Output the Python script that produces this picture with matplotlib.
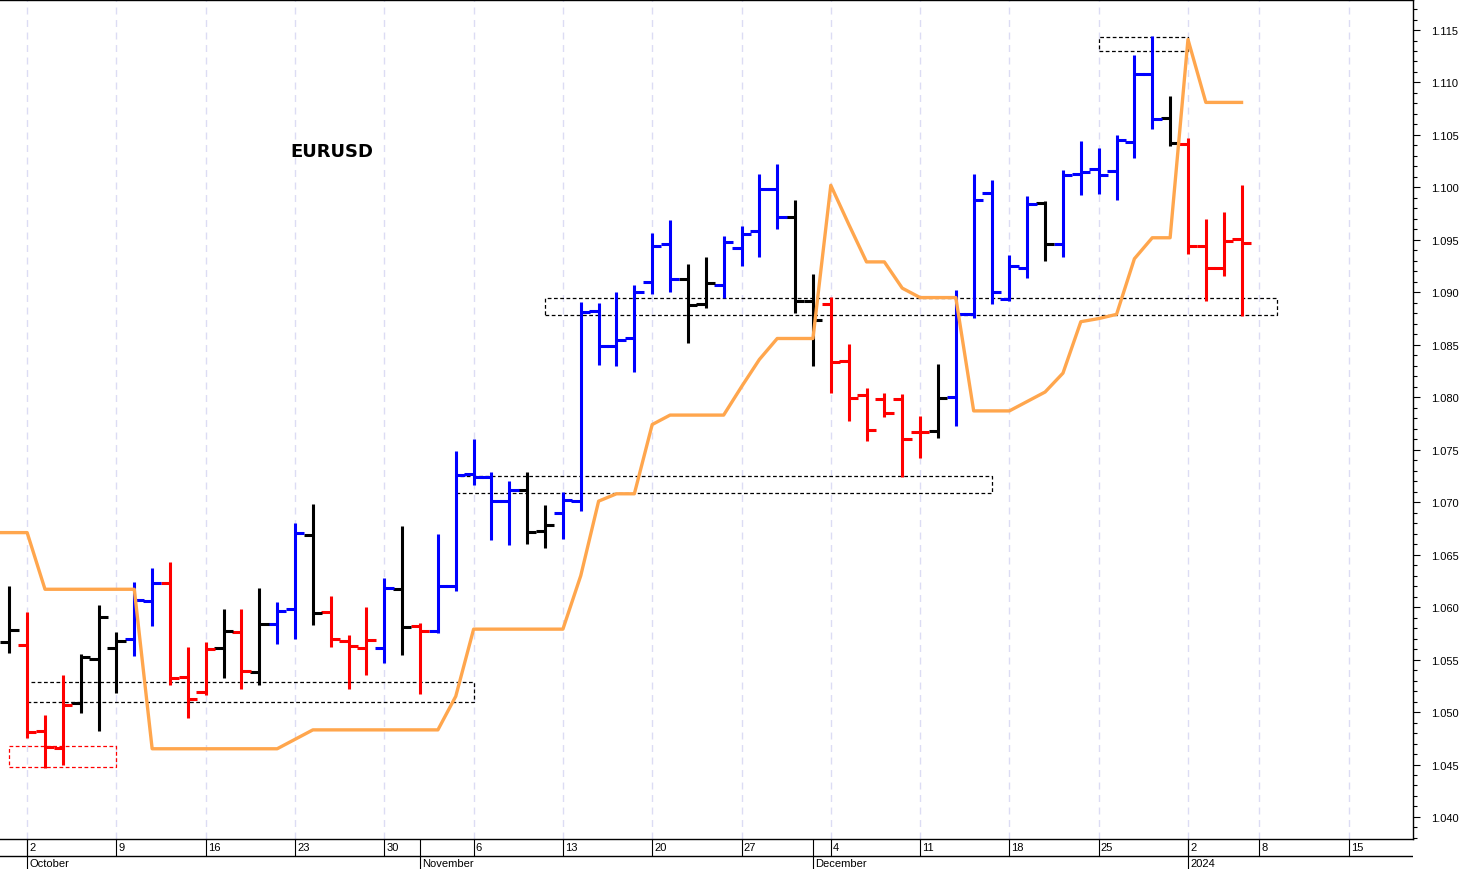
import numpy as np
import pandas as pd
import matplotlib.pyplot as plt
from matplotlib.patches import Rectangle
from matplotlib.ticker import MultipleLocator, FormatStrFormatter

# trading days on the axis (weekdays, no Jan 1), bars run Sep 29 -> Jan 5
days = pd.bdate_range('2023-09-29', '2024-01-19')
days = days[days != pd.Timestamp('2024-01-01')]

opens = [1.0567, 1.0564, 1.0482, 1.0466, 1.0509, 1.0551, 1.0561, 1.0570, 1.0606, 1.0623,
         1.0533, 1.0519, 1.0561, 1.0576, 1.0538, 1.0584, 1.0598, 1.0669, 1.0595, 1.0568,
         1.0561, 1.0561, 1.0617, 1.0582, 1.0577, 1.0620, 1.0727, 1.0724, 1.0701, 1.0712,
         1.0673, 1.0690, 1.0701, 1.0882, 1.0849, 1.0856, 1.0910, 1.0946, 1.0913, 1.0889,
         1.0907, 1.0942, 1.0958, 1.0998, 1.0972, 1.0892, 1.0889, 1.0835, 1.0802, 1.0798,
         1.0798, 1.0767, 1.0768, 1.0800, 1.0879, 1.0995, 1.0894, 1.0923, 1.0985, 1.0946,
         1.1013, 1.1018, 1.1016, 1.1043, 1.1108, 1.1066, 1.1041, 1.0944, 1.0923, 1.0951]
highs = [1.0620, 1.0595, 1.0497, 1.0535, 1.0555, 1.0602, 1.0576, 1.0624, 1.0637, 1.0643,
         1.0562, 1.0567, 1.0598, 1.0598, 1.0618, 1.0605, 1.0680, 1.0698, 1.0611, 1.0573,
         1.0600, 1.0628, 1.0677, 1.0585, 1.0670, 1.0749, 1.0760, 1.0729, 1.0720, 1.0729,
         1.0697, 1.0710, 1.0891, 1.0890, 1.0900, 1.0907, 1.0957, 1.0969, 1.0927, 1.0934,
         1.0954, 1.0963, 1.1013, 1.1022, 1.0988, 1.0917, 1.0896, 1.0851, 1.0809, 1.0804,
         1.0803, 1.0782, 1.0832, 1.0902, 1.1013, 1.1007, 1.0936, 1.0992, 1.0987, 1.1017,
         1.1044, 1.1038, 1.1050, 1.1126, 1.1144, 1.1087, 1.1047, 1.0970, 1.0977, 1.1002]
lows = [1.0556, 1.0475, 1.0447, 1.0450, 1.0499, 1.0482, 1.0518, 1.0553, 1.0582, 1.0526,
        1.0494, 1.0516, 1.0532, 1.0522, 1.0526, 1.0565, 1.0570, 1.0583, 1.0562, 1.0522,
        1.0535, 1.0547, 1.0554, 1.0517, 1.0575, 1.0615, 1.0716, 1.0664, 1.0659, 1.0660,
        1.0656, 1.0665, 1.0692, 1.0831, 1.0830, 1.0824, 1.0898, 1.0900, 1.0852, 1.0885,
        1.0895, 1.0925, 1.0934, 1.0960, 1.0880, 1.0830, 1.0804, 1.0777, 1.0758, 1.0781,
        1.0724, 1.0742, 1.0761, 1.0773, 1.0876, 1.0889, 1.0892, 1.0914, 1.0930, 1.0934,
        1.0993, 1.0994, 1.0988, 1.1028, 1.1056, 1.1039, 1.0937, 1.0892, 1.0916, 1.0877]
closes = [1.0578, 1.0481, 1.0467, 1.0507, 1.0552, 1.0591, 1.0568, 1.0607, 1.0623, 1.0532,
          1.0512, 1.0560, 1.0577, 1.0539, 1.0584, 1.0596, 1.0671, 1.0594, 1.0570, 1.0563,
          1.0569, 1.0618, 1.0581, 1.0577, 1.0620, 1.0726, 1.0724, 1.0701, 1.0712, 1.0672,
          1.0678, 1.0702, 1.0881, 1.0849, 1.0855, 1.0900, 1.0944, 1.0913, 1.0888, 1.0909,
          1.0948, 1.0956, 1.0998, 1.0972, 1.0892, 1.0874, 1.0834, 1.0799, 1.0769, 1.0785,
          1.0760, 1.0767, 1.0799, 1.0879, 1.0988, 1.0900, 1.0925, 1.0984, 1.0946, 1.1012,
          1.1015, 1.1012, 1.1045, 1.1108, 1.1065, 1.1042, 1.0944, 1.0923, 1.0949, 1.0947]
bar_colors = list('krrrkkkbbrrrkrkbbkrrrbkrbbbbbkkbbbbbbbkkbbbbkkrrrrrrkbbbbbkbbbbbbkrrrr')

# orange stop line, first value is the day before the first bar
stop_line = [1.0671, 1.0671, 1.0671, 1.0617, 1.0617, 1.0617, 1.0617, 1.0617, 1.0617, 1.0465,
             1.0465, 1.0465, 1.0465, 1.0465, 1.0465, 1.0465, 1.0465, 1.0474, 1.0483, 1.0483,
             1.0483, 1.0483, 1.0483, 1.0483, 1.0483, 1.0483, 1.0515, 1.0579, 1.0579, 1.0579,
             1.0579, 1.0579, 1.0579, 1.0630, 1.0701, 1.0708, 1.0708, 1.0774, 1.0783, 1.0783,
             1.0783, 1.0783, 1.0810, 1.0836, 1.0856, 1.0856, 1.0856, 1.1002, 1.0965, 1.0929,
             1.0929, 1.0904, 1.0895, 1.0895, 1.0895, 1.0787, 1.0787, 1.0787, 1.0796, 1.0805,
             1.0823, 1.0872, 1.0875, 1.0879, 1.0932, 1.0952, 1.0952, 1.1141, 1.1081, 1.1081,
             1.1081]

# dashed zones: start bar, end bar, low, high, colour
zone_start = [0, 1, 25, 30, 61]
zone_end = [6, 26, 55, 71, 66]
zone_low = [1.0448, 1.0510, 1.0709, 1.0878, 1.1130]
zone_high = [1.0468, 1.0529, 1.0725, 1.0895, 1.1143]
zone_color = ['red', 'black', 'black', 'black', 'black']

cmap = {'b': '#0000FF', 'r': '#FF0000', 'k': '#000000'}
cols = [cmap[c] for c in bar_colors]

W, H = 1462, 870
fig = plt.figure(figsize=(W / 100, H / 100), dpi=100)
ax = fig.add_axes([0, 30 / H, 1413 / W, 839 / H])
ax2 = fig.add_axes([0, 0, 1413 / W, 30 / H])

xlim = (-0.52, 78.6)
x = np.arange(len(opens))

week_start = [i for i in range(1, len(days)) if days[i].weekday() < days[i - 1].weekday()]
month_start = [i for i in range(1, len(days)) if days[i].month != days[i - 1].month]

for w in week_start:
    ax.axvline(w, color='#DCDCF4', lw=1, ls=(0, (5, 4)), zorder=0)

for s, e, lo, hi, c in zip(zone_start, zone_end, zone_low, zone_high, zone_color):
    ax.add_patch(Rectangle((s, lo), e - s, hi - lo, fill=False, ec=c, lw=0.9,
                           ls=(0, (3, 2)), zorder=1))

ax.vlines(x, lows, highs, colors=cols, lw=2.2, zorder=2)
ax.hlines(opens, x - 0.52, x, colors=cols, lw=2.2, zorder=2)
ax.hlines(closes, x, x + 0.52, colors=cols, lw=2.2, zorder=2)

ax.plot(np.arange(-1, len(stop_line) - 1), stop_line, color='#FFA64D', lw=2.4, zorder=3)

ax.text(15.72, 1.1035, 'EURUSD', fontsize=13, fontweight='bold', family='DejaVu Sans',
        ha='left', va='center')

ax.set_xlim(*xlim)
ax.set_ylim(1.0379, 1.11786)
ax.set_xticks([])
ax.yaxis.tick_right()
ax.yaxis.set_major_locator(MultipleLocator(0.005))
ax.yaxis.set_minor_locator(MultipleLocator(0.001))
ax.yaxis.set_major_formatter(FormatStrFormatter('%.3f'))
ax.tick_params(axis='y', which='major', direction='out', length=5, width=0.8, pad=8,
               labelsize=8, labelfontfamily='Liberation Sans')
ax.tick_params(axis='y', which='minor', direction='out', length=3, width=0.8)
ax.spines['left'].set_visible(False)
for sp in ['right', 'top', 'bottom']:
    ax.spines[sp].set_linewidth(1)

# date rows under the plot (pixel-like y: 30 at plot bottom, 0 at image bottom)
ax2.set_xlim(*xlim)
ax2.set_ylim(0, 30)
ax2.axis('off')
ax2.axhline(13, color='black', lw=1)
for w in week_start:
    ax2.vlines(w, 13, 30, color='black', lw=0.8)
    ax2.text(w + 0.12, 21.5, str(days[w].day), fontsize=8, family='Liberation Sans',
             ha='left', va='center')
for m in month_start:
    ax2.vlines(m, 0, 30, color='black', lw=0.8)
    label = str(days[m].year) if days[m].month == 1 else days[m].strftime('%B')
    ax2.text(m + 0.12, 6, label, fontsize=8, family='Liberation Sans',
             ha='left', va='center')

fig.savefig('out.png', dpi=100)
